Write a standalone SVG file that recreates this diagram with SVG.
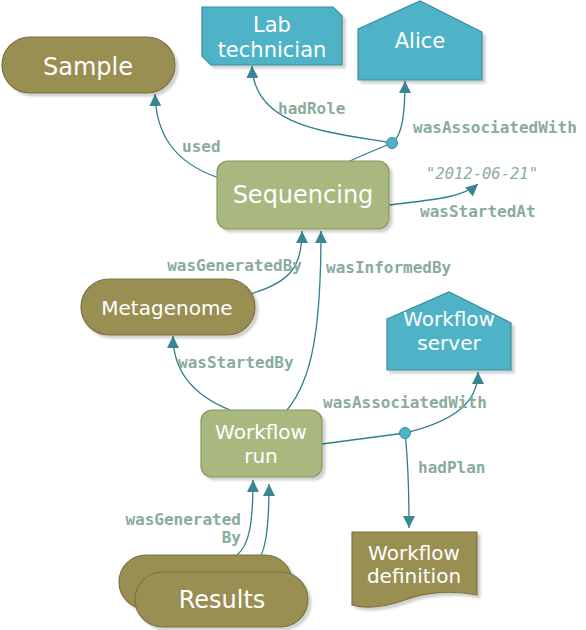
<svg xmlns="http://www.w3.org/2000/svg" width="586" height="630" viewBox="0 0 586 630">
<style>
.agent{fill:#4fb3c8;stroke:#3a8d9c;stroke-width:1.2}
.entity{fill:#9a8f53;stroke:#7c7240;stroke-width:1.2}
.activity{fill:#a8b87e;stroke:#889860;stroke-width:1.2}
.nt{font-family:"DejaVu Sans",Verdana,sans-serif;fill:#ffffff;text-anchor:middle}
.edge{fill:none;stroke:#2f7f8c;stroke-width:1.3}
.lbl{font-family:"DejaVu Sans Mono","Liberation Mono",monospace;font-size:16px;font-weight:bold;fill:#8aab9d}
.dot{fill:#4fb3c8;stroke:#3a8d9c;stroke-width:1}
</style>
<defs>
<marker id="arr" viewBox="0 0 12 12" refX="12" refY="6" markerWidth="12" markerHeight="12" orient="auto" markerUnits="userSpaceOnUse">
<path d="M0,0 L12,6 L0,12 z" fill="#3a8592"/>
</marker>
<filter id="sh" x="-10%" y="-10%" width="130%" height="140%">
<feDropShadow dx="3" dy="3" stdDeviation="1" flood-color="#000000" flood-opacity="0.18"/>
</filter>
</defs>

<g id="connectors">
<path class="edge" d="M219,178 C172,162 156,132 155,94" marker-end="url(#arr)"/>
<path class="edge" d="M392,143 C330,132 254,128 252,66" marker-end="url(#arr)"/>
<path class="edge" d="M350,161 C365,154 380,148 392,143 C402,136 405,115 405,81" marker-end="url(#arr)"/>
<path class="edge" d="M389,205 C430,200 462,198 478,184" marker-end="url(#arr)"/>
<path class="edge" d="M250,294 C292,282 302,265 302,231" marker-end="url(#arr)"/>
<path class="edge" d="M287,410 C312,380 321,330 321,231" marker-end="url(#arr)"/>
<path class="edge" d="M230,410 C195,396 173,372 173,336" marker-end="url(#arr)"/>
<path class="edge" d="M322,444 L405,433 C455,421 478,402 478,372" marker-end="url(#arr)"/>
<path class="edge" d="M405,433 C408,460 409,492 409,528" marker-end="url(#arr)"/>
<path class="edge" d="M237,555 C250,545 253,520 253,480" marker-end="url(#arr)"/>
<path class="edge" d="M252,570 C266,556 269,530 269,484" marker-end="url(#arr)"/>
<circle class="dot" cx="392" cy="143" r="5.5"/>
<circle class="dot" cx="405" cy="433" r="5.5"/>
<text class="lbl" x="182" y="152">used</text>
<text class="lbl" x="278" y="114">hadRole</text>
<text class="lbl" x="413" y="133">wasAssociatedWith</text>
<text x="426" y="179" style="font-family:'DejaVu Sans Mono','Liberation Mono',monospace;font-size:15.5px;font-style:italic;fill:#8aab9d">"2012-06-21"</text>
<text class="lbl" x="420" y="217">wasStartedAt</text>
<text class="lbl" x="302" y="271" text-anchor="end">wasGeneratedBy</text>
<text class="lbl" x="326" y="273">wasInformedBy</text>
<text class="lbl" x="178" y="368">wasStartedBy</text>
<text class="lbl" x="323" y="408">wasAssociatedWith</text>
<text class="lbl" x="418" y="473">hadPlan</text>
<text class="lbl" x="241" y="525" text-anchor="end">wasGenerated</text>
<text class="lbl" x="241" y="543" text-anchor="end">By</text>
</g>

<g id="lab-technician">
<path class="agent" filter="url(#sh)" d="M202,7 L333,7 L342,16 L342,65 L211,65 L202,56 Z"/>
<text class="nt" x="272" y="32" font-size="21">Lab</text>
<text class="nt" x="272" y="57" font-size="21">technician</text>
</g>

<g id="alice">
<path class="agent" filter="url(#sh)" d="M358,29 L420,1 L482,32 L482,80 L358,80 Z"/>
<text class="nt" x="420" y="48" font-size="21">Alice</text>
</g>

<g id="sample">
<rect class="entity" filter="url(#sh)" x="2" y="37" width="173" height="56" rx="28"/>
<text class="nt" x="88" y="75" font-size="24">Sample</text>
</g>

<g id="sequencing">
<rect class="activity" filter="url(#sh)" x="217" y="161" width="172" height="68" rx="11"/>
<text class="nt" x="303" y="203" font-size="24">Sequencing</text>
</g>

<g id="metagenome">
<rect class="entity" filter="url(#sh)" x="81" y="279" width="174" height="56" rx="28"/>
<text class="nt" x="167" y="315" font-size="20">Metagenome</text>
</g>

<g id="workflow-server">
<path class="agent" filter="url(#sh)" d="M387,319 L449,292 L511,323 L511,370 L387,370 Z"/>
<text class="nt" x="449" y="326" font-size="20">Workflow</text>
<text class="nt" x="449" y="350" font-size="20">server</text>
</g>

<g id="workflow-run">
<rect class="activity" filter="url(#sh)" x="201" y="410" width="121" height="67" rx="11"/>
<text class="nt" x="261" y="439" font-size="20">Workflow</text>
<text class="nt" x="261" y="463" font-size="20">run</text>
</g>

<g id="results">
<rect class="entity" filter="url(#sh)" x="119" y="555" width="173" height="54" rx="27"/>
<rect class="entity" filter="url(#sh)" x="135" y="572" width="173" height="55" rx="27.5"/>
<text class="nt" x="222" y="608" font-size="24">Results</text>
</g>

<g id="workflow-definition">
<path class="entity" filter="url(#sh)" d="M352,532 L477,532 L477,595 C452,590 425,592 405,600 C385,607 366,609 352,605 Z"/>
<text class="nt" x="414" y="560" font-size="20">Workflow</text>
<text class="nt" x="414" y="583" font-size="20">definition</text>
</g>
</svg>
